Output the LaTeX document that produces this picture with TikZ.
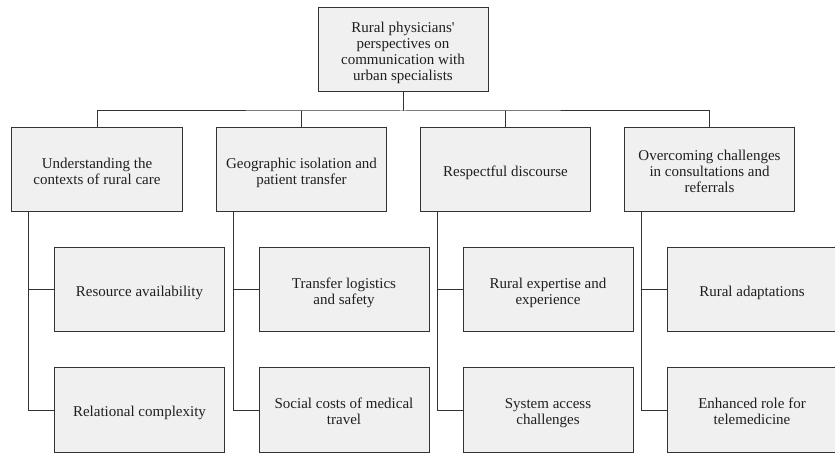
\documentclass[tikz,border=0pt]{standalone}
\usepackage{fontspec}
\setmainfont{Liberation Serif}
\newcommand\tstr{\rule{0pt}{16bp}}
\newcommand\bstr{\rule[-3.5bp]{0pt}{3.5bp}}
\begin{document}
\begin{tikzpicture}[x=1bp,y=-1bp,
  box/.style={draw=black!80, line width=1bp, fill=black!6, text=black!88,
    minimum width=170bp, minimum height=84bp, align=center, inner sep=2bp,
    font=\fontsize{15bp}{16bp}\selectfont},
  link/.style={draw=black!80, line width=1bp}]
\useasboundingbox (0,0) rectangle (835,460);
\clip (0,0) rectangle (835,460);
\node[box] (top) at (403,50) {\tstr Rural physicians\textquotesingle\\perspectives on\\communication with\\urban specialists\bstr};
\node[box] (c1) at (97,170) {\tstr Understanding the\\contexts of rural care\bstr};
\node[box] (c2) at (301.5,170) {\tstr Geographic isolation and\\patient transfer\bstr};
\node[box] (c3) at (505.5,170) {\tstr Respectful discourse\bstr};
\node[box] (c4) at (709.5,170) {\tstr Overcoming challenges\\in consultations and\\referrals\bstr};
\node[box] (c1a) at (139.5,290) {\tstr Resource availability\bstr};
\node[box] (c1b) at (139.5,410) {\tstr Relational complexity\bstr};
\node[box] (c2a) at (344,290) {\tstr Transfer logistics\\and safety\bstr};
\node[box] (c2b) at (344,410) {\tstr Social costs of medical\\travel\bstr};
\node[box] (c3a) at (548,290) {\tstr Rural expertise and\\experience\bstr};
\node[box] (c3b) at (548,410) {\tstr System access\\challenges\bstr};
\node[box] (c4a) at (752,290) {\tstr Rural adaptations\bstr};
\node[box] (c4b) at (752,410) {\tstr Enhanced role for\\telemedicine\bstr};
\coordinate (bus) at (403,111);
\draw[link] (top.south) -- (bus);
\draw[link] (c1.north) |- (bus) -| (c4.north);
\draw[link] (c2.north) -- (c2.north |- bus);
\draw[link] (c3.north) -- (c3.north |- bus);
\foreach \p in {c1,c2,c3,c4}{
  \coordinate (\p s) at ([xshift=17bp]\p.south west);
  \draw[link] (\p s) |- (\p a.west);
  \draw[link] (\p s) |- (\p b.west);
}
\end{tikzpicture}
\end{document}
